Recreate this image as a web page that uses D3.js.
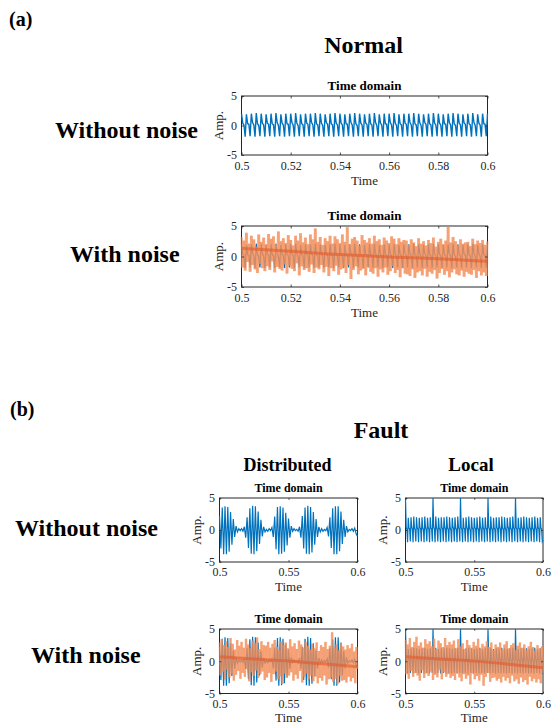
<!DOCTYPE html>
<html>
<head>
<meta charset="utf-8">
<script src="https://cdn.jsdelivr.net/npm/d3@7"></script>
<style>
  body { margin: 0; background: #fff; }
  svg { display: block; font-family: "Liberation Serif", "Times New Roman", serif; }
</style>
</head>
<body>
<svg id="fig" width="552" height="724"></svg>
<script>
// ---- tick values ----
const TIME_TICKS_A = [0.5, 0.52, 0.54, 0.56, 0.58, 0.6];
const TIME_TICKS_B = [0.5, 0.55, 0.6];
const AMP_TICKS = [-5, 0, 5];

// ---- healthy gear signal, 0.5–0.6 s, dt = 0.5 ms ----
const normalClean = [
  2.0,0.4,0.1,-1.9,1.9,0.3,0.2,-1.8,2.0,0.5,0.1,-1.9,2.1,0.3,0.0,-1.8,2.0,0.4,0.1,-1.9,
  1.9,0.4,0.2,-1.8,2.0,0.3,0.1,-1.9,2.1,0.5,0.0,-1.8,1.9,0.4,0.1,-1.9,2.0,0.3,0.2,-1.8,
  2.0,0.5,0.1,-1.9,2.1,0.4,0.0,-1.8,1.9,0.3,0.1,-1.9,2.0,0.4,0.2,-1.8,2.0,0.5,0.1,-1.9,
  2.1,0.3,0.1,-1.8,2.0,0.4,0.0,-1.9,1.9,0.5,0.2,-1.8,2.0,0.3,0.1,-1.9,2.1,0.4,0.1,-1.8,
  2.0,0.4,0.1,-1.9,1.9,0.3,0.2,-1.8,2.0,0.5,0.1,-1.9,2.1,0.3,0.0,-1.8,2.0,0.4,0.1,-1.9,
  1.9,0.4,0.2,-1.8,2.0,0.3,0.1,-1.9,2.1,0.5,0.0,-1.8,1.9,0.4,0.1,-1.9,2.0,0.3,0.2,-1.8,
  2.0,0.5,0.1,-1.9,2.1,0.4,0.0,-1.8,1.9,0.3,0.1,-1.9,2.0,0.4,0.2,-1.8,2.0,0.5,0.1,-1.9,
  2.1,0.3,0.1,-1.8,2.0,0.4,0.0,-1.9,1.9,0.5,0.2,-1.8,2.0,0.3,0.1,-1.9,2.1,0.4,0.1,-1.8,
  2.0,0.4,0.1,-1.9,1.9,0.3,0.2,-1.8,2.0,0.5,0.1,-1.9,2.1,0.3,0.0,-1.8,2.0,0.4,0.1,-1.9,
  1.9,0.4,0.2,-1.8,2.0,0.3,0.1,-1.9,2.1,0.5,0.0,-1.8,1.9,0.4,0.1,-1.9,2.0,0.3,0.2,-1.8,
  2.0
];

// ---- local fault: impacts every 20 ms, dt = 0.5 ms ----
const localClean = [
  5.0,0.4,0.1,-1.9,1.9,0.3,0.2,-1.8,2.0,0.5,0.1,-1.9,2.1,0.3,0.0,-1.8,2.0,0.4,0.1,-1.9,
  1.9,0.4,0.2,-1.8,2.0,0.3,0.1,-1.9,2.1,0.5,0.0,-1.8,1.9,0.4,0.1,-1.9,2.0,0.3,0.2,-1.8,
  5.0,0.5,0.1,-1.9,2.1,0.4,0.0,-1.8,1.9,0.3,0.1,-1.9,2.0,0.4,0.2,-1.8,2.0,0.5,0.1,-1.9,
  2.1,0.3,0.1,-1.8,2.0,0.4,0.0,-1.9,1.9,0.5,0.2,-1.8,2.0,0.3,0.1,-1.9,2.1,0.4,0.1,-1.8,
  5.0,0.4,0.1,-1.9,1.9,0.3,0.2,-1.8,2.0,0.5,0.1,-1.9,2.1,0.3,0.0,-1.8,2.0,0.4,0.1,-1.9,
  1.9,0.4,0.2,-1.8,2.0,0.3,0.1,-1.9,2.1,0.5,0.0,-1.8,1.9,0.4,0.1,-1.9,2.0,0.3,0.2,-1.8,
  5.0,0.5,0.1,-1.9,2.1,0.4,0.0,-1.8,1.9,0.3,0.1,-1.9,2.0,0.4,0.2,-1.8,2.0,0.5,0.1,-1.9,
  2.1,0.3,0.1,-1.8,2.0,0.4,0.0,-1.9,1.9,0.5,0.2,-1.8,2.0,0.3,0.1,-1.9,2.1,0.4,0.1,-1.8,
  5.0,0.4,0.1,-1.9,1.9,0.3,0.2,-1.8,2.0,0.5,0.1,-1.9,2.1,0.3,0.0,-1.8,2.0,0.4,0.1,-1.9,
  1.9,0.4,0.2,-1.8,2.0,0.3,0.1,-1.9,2.1,0.5,0.0,-1.8,1.9,0.4,0.1,-1.9,2.0,0.3,0.2,-1.8,
  -1.6
];

// ---- distributed fault: modulated bursts, dt = 1 ms ----
const distributedClean = [
  2.2,-2.9,3.5,-3.8,3.7,-3.8,3.6,-3.4,2.8,-2.3,1.7,-1.1,0.6,-0.3,0.2,-0.1,0.2,-0.2,0.5,-1.2,
  2.0,-2.8,3.4,-3.7,3.8,-3.8,3.7,-3.3,2.9,-2.2,1.6,-1.0,0.5,-0.3,0.1,-0.2,0.2,-0.1,0.4,-1.1,
  2.1,-3.0,3.6,-3.8,3.7,-3.7,3.5,-3.4,2.7,-2.4,1.8,-1.2,0.6,-0.2,0.2,-0.1,0.1,-0.2,0.5,-1.2,
  2.2,-2.9,3.5,-3.7,3.8,-3.8,3.6,-3.5,2.8,-2.3,1.7,-1.1,0.5,-0.3,0.2,-0.2,0.1,-0.1,0.4,-1.0,
  2.0,-2.8,3.4,-3.8,3.7,-3.8,3.7,-3.3,2.9,-2.2,1.6,-1.1,0.6,-0.3,0.1,-0.1,0.2,-0.2,0.3,-0.6,
  -1.0
];

// ---- noisy measurements ----
const normalNoisy = [ // dt = 0.5 ms
  3.2,-1.8,2.6,-2.3,3.9,-0.9,2.1,-2.5,3.4,-1.4,2.8,-2.1,1.6,-2.7,3.6,-1.2,2.4,-1.9,3.1,-2.4,
  2.0,-1.6,3.7,-2.2,2.9,-0.8,3.3,-2.6,1.9,-1.7,4.1,-2.0,2.5,-2.3,3.0,-1.3,2.2,-2.8,3.5,-1.5,
  2.7,-2.0,1.8,-2.4,3.4,-1.1,2.6,-3.1,3.8,-1.6,2.3,-2.2,3.1,-1.9,2.0,-2.5,3.6,-1.3,2.8,-2.7,
  4.6,-1.8,2.4,-2.1,3.2,-1.4,1.9,
  -2.6,3.0,-1.7,2.5,-3.2,3.4,-1.9,2.1,-2.4,3.3,-1.5,2.8,-3.0,2.2,-2.1,3.6,-1.8,2.4,-2.7,4.8,
  -1.4,2.0,-3.7,2.9,-2.2,3.2,-1.6,2.6,-2.9,1.8,-2.3,3.5,-2.0,2.7,-3.1,2.3,-1.7,3.0,-2.5,2.1,
  -2.8,3.4,-1.9,2.5,-3.3,2.8,-2.1,1.9,-2.6,3.1,-1.8,2.6,-3.0,2.2,-2.4,3.3,-1.6,2.9,-2.7,2.0,
  -2.2,3.0,-3.4,2.4,-1.9,2.7,-2.8,
  2.6,-2.9,1.9,-3.2,2.8,-2.1,2.3,-3.5,1.7,-2.6,3.0,-2.4,2.1,-3.1,2.5,-2.0,1.8,-3.3,2.7,-2.5,
  2.2,-2.8,3.1,-2.2,1.6,-3.6,2.4,-2.7,2.9,-2.0,2.0,-3.0,2.6,-2.4,4.9,-3.4,2.3,-2.6,3.2,-2.1,
  2.5,-2.9,1.8,-3.1,2.8,-2.3,2.1,-3.3,2.3,-2.5,2.4,-2.8,1.7,-3.0,2.9,-2.2,2.0,-3.5,2.6,-2.4,
  2.2,-3.1,2.7,-2.6,1.9,-3.2,2.5
];
const distributedNoisy = [ // dt = 0.8 ms
  2.9,-2.2,3.4,-1.6,2.5,-2.8,3.1,-1.3,2.2,-2.5,3.6,-1.9,2.7,-3.0,1.8,-2.1,3.3,-1.5,2.4,-2.7,
  3.0,-1.8,2.1,-2.4,3.5,-1.2,2.6,-3.1,2.0,-1.7,3.2,-2.3,2.8,-1.4,3.7,-2.6,1.9,-2.0,3.1,-1.6,
  2.5,-2.9,
  2.4,-2.5,3.0,-1.8,2.1,-3.2,2.7,-2.0,3.3,-1.6,2.2,-2.8,1.7,-2.3,3.1,-3.5,2.5,-1.9,2.9,-2.6,
  2.0,-2.2,3.4,-1.7,2.3,-3.0,2.8,-2.1,1.9,-2.7,3.2,-1.5,2.6,-3.3,2.1,-2.4,3.0,-1.9,2.4,-2.8,
  1.8,-2.2,
  2.7,-3.1,2.0,-2.4,2.9,-3.4,1.6,-2.6,2.5,-3.0,2.2,-2.2,3.0,-3.6,1.9,-2.8,2.4,-2.5,4.5,-3.2,
  2.1,-2.7,2.6,-3.5,1.7,-2.3,2.8,-3.0,2.3,-2.9,1.8,-3.3,2.5,-2.4,2.0,-3.1,2.7,-2.6,1.5,-3.4,
  2.2,-1.2
];
const localNoisy = [ // dt = 0.8 ms
  3.3,-2.0,2.6,-2.7,3.6,-1.5,2.2,-2.4,3.0,-1.8,3.8,-2.2,2.4,-3.0,2.9,-1.4,2.1,-2.6,3.4,-1.9,
  2.7,-2.3,3.1,-1.6,2.3,-2.9,3.5,-2.1,1.9,-2.5,3.2,-1.3,2.8,-2.8,2.2,-1.7,3.6,-2.4,2.5,-2.0,
  3.0,-2.6,
  2.6,-2.3,3.2,-2.9,2.0,-1.8,3.4,-2.5,2.3,-3.1,2.8,-2.0,1.9,-2.7,3.3,-2.2,2.5,-3.6,2.1,-1.9,
  3.0,-2.8,2.4,-2.3,3.5,-3.0,2.0,-2.1,2.7,-3.8,2.3,-2.4,3.1,-1.8,2.2,-3.2,2.9,-2.6,1.8,-2.5,
  2.6,-3.0,
  2.2,-2.7,2.9,-3.3,1.9,-2.4,2.6,-3.0,3.1,-2.6,2.0,-3.4,2.5,-2.2,2.8,-3.1,1.7,-2.8,2.4,-3.5,
  2.9,-2.5,2.1,-3.2,2.6,-2.9,1.8,-3.6,2.3,-2.4,3.0,-3.1,2.2,-2.7,1.6,-3.3,2.5,-2.8,2.0,-3.4,
  2.3,-1.8
];

// ---- slow drift of the noisy records ----
const trendTimesA = [0.5, 0.52, 0.54, 0.56, 0.58, 0.6];
const normalTrend = [1.34, 0.85, 0.31, -0.07, -0.35, -0.79];
const trendTimesB = [0.5, 0.525, 0.55, 0.575, 0.6];
const distributedTrend = [0.69, 0.35, 0.02, -0.40, -0.86];
const localTrend = [0.69, 0.36, 0.02, -0.45, -1.0];

// ---- colours ----
const BLUE = "#0072BD";
const NOISE = "#F38E58";
const DRIFT = "#E5582A";
const INK = "#262626";

const T0 = 0.5, T1 = 0.6;
const svg = d3.select("#fig");

// uniformly sampled record -> {t, v}
function record(values) {
  const n = values.length;
  return values.map((v, i) => ({ t: T0 + i * (T1 - T0) / (n - 1), v }));
}

const fmtAmp = d => (d < 0 ? "-" + Math.abs(d) : String(d));

function drawPanel(p, idx) {
  const x = d3.scaleLinear().domain([T0, T1]).range([p.x0, p.x1]);
  const y = d3.scaleLinear().domain([-5, 5]).range([p.y1, p.y0]);
  const g = svg.append("g");

  // box first, so traces sitting on the edges stay visible
  g.append("rect").attr("x", p.x0).attr("y", p.y0)
    .attr("width", p.x1 - p.x0).attr("height", p.y1 - p.y0)
    .attr("fill", "none").attr("stroke", INK).attr("stroke-width", 1);

  const clipId = "clip" + idx;
  svg.append("clipPath").attr("id", clipId)
    .append("rect").attr("x", p.x0 - 1).attr("y", p.y0 - 1)
    .attr("width", p.x1 - p.x0 + 2).attr("height", p.y1 - p.y0 + 2);
  const plot = g.append("g").attr("clip-path", `url(#${clipId})`);

  const line = d3.line().x(d => x(d.t)).y(d => y(d.v));

  // clean vibration signal
  plot.append("path").datum(record(p.clean))
    .attr("d", line).attr("fill", "none")
    .attr("stroke", BLUE).attr("stroke-width", p.cleanW);

  if (p.noisy) {
    // noisy record drawn segment by segment so overlaps build up
    const pts = record(p.noisy);
    plot.append("g").selectAll("line")
      .data(d3.pairs(pts)).join("line")
      .attr("x1", d => x(d[0].t)).attr("y1", d => y(d[0].v))
      .attr("x2", d => x(d[1].t)).attr("y2", d => y(d[1].v))
      .attr("stroke", NOISE).attr("stroke-width", p.noiseW)
      .attr("stroke-opacity", 0.58);

    const drift = p.trendT.map((t, i) => ({ t, v: p.trend[i] }));
    plot.append("path").datum(drift)
      .attr("d", line.curve(d3.curveMonotoneX))
      .attr("fill", "none").attr("stroke", DRIFT)
      .attr("stroke-width", 3).attr("stroke-opacity", 0.6);
  }

  const tl = p.tick;
  const styleAxis = sel => {
    sel.select(".domain").remove();
    sel.selectAll(".tick line").attr("stroke", INK).attr("stroke-width", 0.8);
    sel.selectAll(".tick text").attr("fill", INK)
      .attr("font-family", "Liberation Serif, Times New Roman, serif")
      .attr("font-size", p.tickFont);
  };

  g.append("g").attr("transform", `translate(0,${p.y1})`)
    .call(d3.axisBottom(x).tickValues(p.ticks).tickFormat(String)
      .tickSize(-tl).tickPadding(p.xPad)).call(styleAxis);
  g.append("g").attr("transform", `translate(0,${p.y0})`)
    .call(d3.axisTop(x).tickValues(p.ticks).tickFormat(() => "")
      .tickSize(-tl)).call(styleAxis);
  g.append("g").attr("transform", `translate(${p.x0},0)`)
    .call(d3.axisLeft(y).tickValues(AMP_TICKS).tickFormat(fmtAmp)
      .tickSize(-tl).tickPadding(4.5)).call(styleAxis);
  g.append("g").attr("transform", `translate(${p.x1},0)`)
    .call(d3.axisRight(y).tickValues(AMP_TICKS).tickFormat(() => "")
      .tickSize(-tl)).call(styleAxis);

  // titles and axis labels
  g.append("text").attr("x", (p.x0 + p.x1) / 2).attr("y", p.y0 - 6)
    .attr("text-anchor", "middle").attr("font-weight", "bold")
    .attr("font-size", p.titleFont).attr("fill", "#000").text("Time domain");
  g.append("text").attr("x", (p.x0 + p.x1) / 2).attr("y", p.y1 + p.labelOff)
    .attr("text-anchor", "middle").attr("font-size", 13)
    .attr("fill", INK).text("Time");
  g.append("text")
    .attr("transform", `translate(${p.x0 - 18.5},${(p.y0 + p.y1) / 2}) rotate(-90)`)
    .attr("text-anchor", "middle").attr("font-size", 13)
    .attr("fill", INK).text("Amp.");
}

const panels = [
  { x0: 241.5, x1: 487.5, y0: 96,  y1: 155,   ticks: TIME_TICKS_A, clean: normalClean, cleanW: 1.4,
    tick: 2.5, xPad: 6.5, labelOff: 30, tickFont: 12, titleFont: 13 },
  { x0: 241.5, x1: 487.5, y0: 226, y1: 287,   ticks: TIME_TICKS_A, clean: normalClean, cleanW: 1.2,
    noisy: normalNoisy, trendT: trendTimesA, trend: normalTrend, noiseW: 2.8,
    tick: 2.5, xPad: 6.5, labelOff: 30, tickFont: 12, titleFont: 13 },
  { x0: 219.5, x1: 357.5, y0: 498, y1: 562,   ticks: TIME_TICKS_B, clean: distributedClean, cleanW: 1.2,
    tick: 1.8, xPad: 5.5, labelOff: 29, tickFont: 12, titleFont: 12 },
  { x0: 405.5, x1: 543,   y0: 498, y1: 562,   ticks: TIME_TICKS_B, clean: localClean, cleanW: 1.2,
    tick: 1.8, xPad: 5.5, labelOff: 29, tickFont: 12, titleFont: 12 },
  { x0: 219.5, x1: 357.5, y0: 629, y1: 693.5, ticks: TIME_TICKS_B, clean: distributedClean, cleanW: 1.2,
    noisy: distributedNoisy, trendT: trendTimesB, trend: distributedTrend, noiseW: 2.3,
    tick: 1.8, xPad: 5.5, labelOff: 28, tickFont: 12, titleFont: 12 },
  { x0: 405.5, x1: 543,   y0: 629, y1: 693.5, ticks: TIME_TICKS_B, clean: localClean, cleanW: 1.2,
    noisy: localNoisy, trendT: trendTimesB, trend: localTrend, noiseW: 2.3,
    tick: 1.8, xPad: 5.5, labelOff: 28, tickFont: 12, titleFont: 12 }
];
panels.forEach(drawPanel);

// headings
const heads = [
  { text: "(a)", x: 9, y: 26, size: 20, anchor: "start" },
  { text: "Normal", x: 363.5, y: 53, size: 24, anchor: "middle" },
  { text: "Without noise", x: 55, y: 138, size: 24, anchor: "start" },
  { text: "With noise", x: 70, y: 262, size: 24, anchor: "start" },
  { text: "(b)", x: 10, y: 416, size: 20, anchor: "start" },
  { text: "Fault", x: 381, y: 438, size: 24, anchor: "middle" },
  { text: "Distributed", x: 287.5, y: 471, size: 18, anchor: "middle" },
  { text: "Local", x: 471, y: 471, size: 19, anchor: "middle" },
  { text: "Without noise", x: 15, y: 536, size: 24, anchor: "start" },
  { text: "With noise", x: 31, y: 663, size: 24, anchor: "start" }
];
svg.append("g").selectAll("text").data(heads).join("text")
  .attr("x", d => d.x).attr("y", d => d.y)
  .attr("text-anchor", d => d.anchor)
  .attr("font-size", d => d.size).attr("font-weight", "bold")
  .attr("fill", "#000").text(d => d.text);
</script>
</body>
</html>
